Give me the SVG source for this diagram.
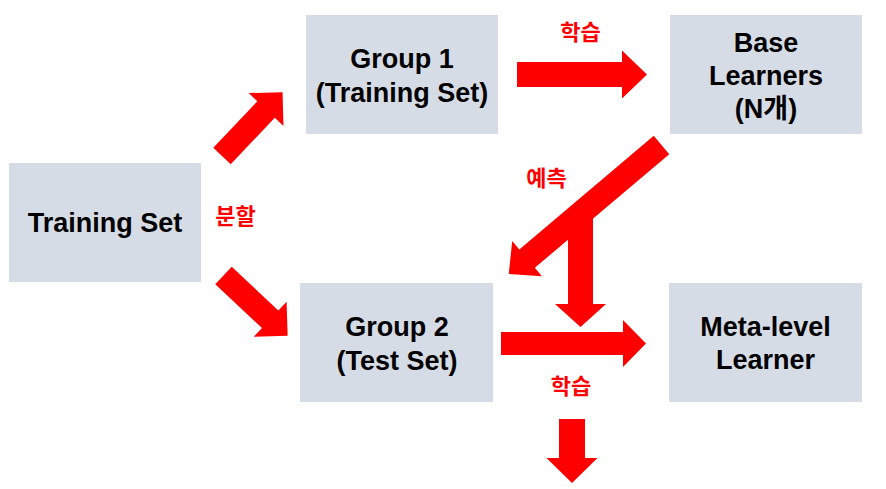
<svg xmlns="http://www.w3.org/2000/svg" width="886" height="489" viewBox="0 0 886 489">
  <style>
    .box { fill: #D6DCE5; }
    .nt { font-family: "Liberation Sans", "Noto Sans CJK KR", sans-serif; font-weight: bold; font-size: 27px; fill: #000000; text-anchor: middle; }
    .arr { fill: #FF0000; }
    .lbl { font-family: "Noto Sans CJK KR", "Noto Sans", sans-serif; font-weight: bold; font-size: 22px; fill: #FF0000; text-anchor: middle; }
  </style>
  <rect width="886" height="489" fill="#FFFFFF"/>

  <g id="connectors">
    <path class="arr" d="M0,-12 H64 V-24 L88,0 L64,24 V12 H0 Z" transform="translate(222,156) rotate(-46.5)"/>
    <path class="arr" d="M0,-12 H64 V-24 L88,0 L64,24 V12 H0 Z" transform="translate(223.5,275.5) rotate(43.2)"/>
    <path class="arr" d="M517,62 H622 V50.5 L647,74.5 L622,98.5 V87 H517 Z"/>
    <path class="arr" d="M0,-12 H176 V-23 L200,0 L176,23 V12 H0 Z" transform="translate(661.5,145) rotate(139.8)"/>
    <polygon class="arr" points="568,232 593,211 593,304 606,304 580.5,327 555,304 568,304"/>
    <path class="arr" d="M501,332 H623 V320 L646,343.5 L623,367 V355 H501 Z"/>
    <path class="arr" d="M559,419 H585 V458 H597.5 L572,483 L546.5,458 H559 Z"/>
    <text class="lbl" x="580.5" y="40">학습</text>
    <text class="lbl" x="546.5" y="186">예측</text>
    <text class="lbl" x="235.5" y="224">분할</text>
    <text class="lbl" x="571" y="394">학습</text>
  </g>

  <g id="training-set">
    <rect class="box" x="9" y="163" width="192" height="119"/>
    <text class="nt" x="105" y="232">Training Set</text>
  </g>
  <g id="group1">
    <rect class="box" x="306" y="15" width="192" height="119"/>
    <text class="nt" x="402" y="68">Group 1</text>
    <text class="nt" x="402" y="102">(Training Set)</text>
  </g>
  <g id="base-learners">
    <rect class="box" x="670" y="15" width="192" height="119"/>
    <text class="nt" x="766" y="52">Base</text>
    <text class="nt" x="766" y="85">Learners</text>
    <text class="nt" x="766" y="118">(N개)</text>
  </g>
  <g id="group2">
    <rect class="box" x="300" y="283" width="193" height="119"/>
    <text class="nt" x="397" y="336">Group 2</text>
    <text class="nt" x="397" y="370">(Test Set)</text>
  </g>
  <g id="meta-learner">
    <rect class="box" x="669" y="283" width="193" height="119"/>
    <text class="nt" x="765.5" y="336">Meta-level</text>
    <text class="nt" x="765.5" y="369">Learner</text>
  </g>
</svg>
